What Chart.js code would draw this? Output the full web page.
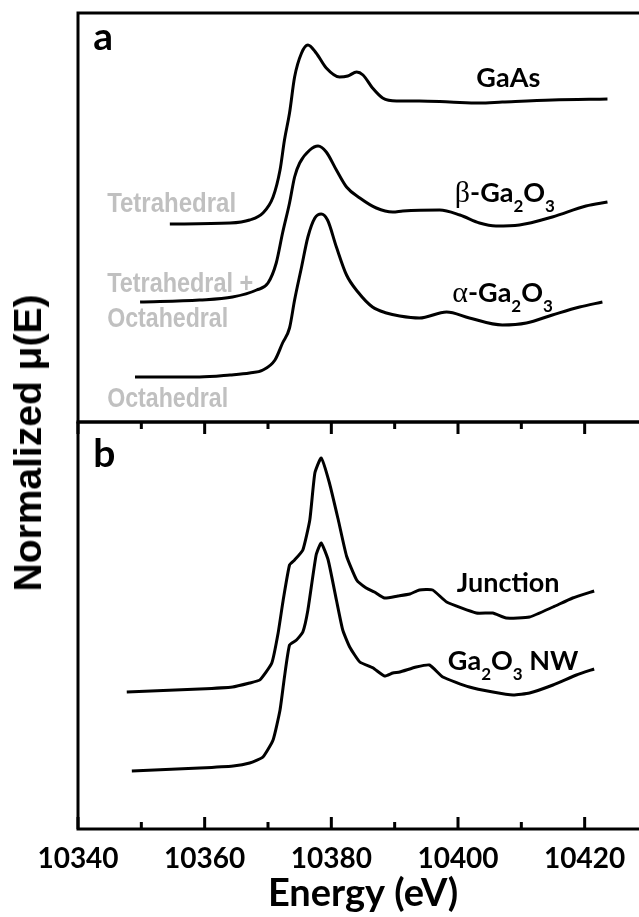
<!DOCTYPE html>
<html lang="en">
<head>
<meta charset="UTF-8">
<title>Ga K-edge XANES</title>
<script src="https://cdn.jsdelivr.net/npm/chart.js@4"></script>
<style>
  html, body { margin: 0; padding: 0; background: #fff; overflow: hidden; }
  #wrap { position: relative; width: 639px; height: 917px; overflow: hidden; }
  #wrap canvas { position: absolute; left: 0; }
  #ylab {
    position: absolute; left: 28px; top: 443px;
    transform: translate(-50%, -50%) rotate(-90deg);
    font: bold 39px 'Liberation Sans', Arial, sans-serif;
    white-space: nowrap; color: #000;
  }
</style>
</head>
<body>
<div id="wrap">
  <canvas id="chartA" width="660" height="430" style="top:0"></canvas>
  <canvas id="chartB" width="660" height="497" style="top:420px"></canvas>
  <div id="ylab">Normalized μ(E)</div>
</div>

<script>
// energy axis (eV)
const xMin = 10340, xMax = 10430;

// panel a: reference compounds (offset for clarity)
const gaasE  = [10354.5, 10364.0, 10367.1, 10369.2, 10370.8, 10371.9, 10372.6, 10373.4, 10374.2, 10375.3, 10376.3, 10377.6, 10379.2, 10381.3, 10382.6, 10384.0, 10385.0, 10386.5, 10388.1, 10390.3, 10393.9, 10398.7, 10403.4, 10407.0, 10414.9, 10423.6];
const gaasMu = [1.98, 1.99, 2.02, 2.09, 2.25, 2.52, 2.82, 3.09, 3.45, 3.69, 3.77, 3.69, 3.54, 3.45, 3.46, 3.50, 3.47, 3.34, 3.24, 3.21, 3.21, 3.20, 3.19, 3.20, 3.22, 3.23];

const betaE  = [10349.8, 10359.2, 10364.4, 10368.2, 10370.0, 10371.3, 10372.3, 10373.4, 10374.2, 10375.0, 10376.6, 10377.9, 10379.2, 10380.8, 10382.4, 10384.5, 10387.1, 10389.7, 10391.3, 10397.1, 10400.3, 10403.4, 10406.0, 10409.7, 10414.9, 10420.2, 10423.6];
const betaMu = [1.20, 1.22, 1.25, 1.32, 1.39, 1.59, 1.89, 2.19, 2.45, 2.59, 2.72, 2.76, 2.70, 2.52, 2.35, 2.24, 2.14, 2.10, 2.11, 2.12, 2.07, 1.99, 1.96, 1.97, 2.05, 2.16, 2.20];

const alphaE  = [10349.0, 10359.2, 10364.0, 10367.1, 10369.2, 10371.1, 10372.3, 10373.4, 10374.2, 10375.3, 10376.3, 10377.4, 10378.4, 10379.4, 10380.8, 10382.4, 10384.2, 10386.5, 10388.7, 10390.8, 10393.9, 10398.2, 10401.8, 10407.0, 10410.8, 10414.9, 10419.2, 10422.8];
const alphaMu = [0.45, 0.45, 0.47, 0.49, 0.52, 0.62, 0.79, 0.94, 1.22, 1.55, 1.85, 2.04, 2.08, 2.02, 1.75, 1.47, 1.30, 1.15, 1.09, 1.06, 1.04, 1.10, 1.04, 0.97, 0.99, 1.07, 1.15, 1.20];

// panel b: nanowire samples
const junctionE  = [10347.7, 10359.2, 10364.4, 10367.1, 10368.7, 10370.6, 10371.6, 10372.4, 10373.4, 10374.2, 10375.5, 10376.6, 10377.4, 10378.4, 10379.7, 10381.1, 10382.4, 10384.0, 10385.5, 10386.8, 10388.4, 10390.5, 10392.4, 10393.9, 10396.0, 10398.2, 10402.9, 10405.5, 10407.6, 10411.3, 10415.0, 10418.1, 10421.5];
const junctionMu = [1.37, 1.40, 1.42, 1.46, 1.49, 1.66, 1.96, 2.29, 2.64, 2.69, 2.79, 3.09, 3.56, 3.71, 3.46, 3.09, 2.73, 2.49, 2.41, 2.37, 2.31, 2.33, 2.35, 2.39, 2.39, 2.27, 2.16, 2.16, 2.11, 2.12, 2.22, 2.31, 2.38];

const nwE  = [10348.5, 10359.2, 10364.5, 10367.1, 10369.2, 10370.8, 10371.9, 10372.6, 10373.4, 10374.5, 10375.5, 10376.3, 10377.6, 10378.4, 10379.5, 10380.8, 10381.8, 10382.9, 10384.5, 10386.6, 10388.4, 10389.7, 10390.8, 10393.4, 10395.5, 10397.6, 10401.8, 10405.5, 10408.7, 10411.3, 10415.0, 10418.7, 10421.5];
const nwMu = [0.58, 0.61, 0.63, 0.66, 0.72, 0.89, 1.19, 1.52, 1.84, 1.89, 1.97, 2.19, 2.74, 2.86, 2.69, 2.29, 1.99, 1.82, 1.67, 1.61, 1.53, 1.56, 1.57, 1.62, 1.64, 1.52, 1.42, 1.37, 1.34, 1.36, 1.44, 1.54, 1.60];

// text placed in data coordinates: [energy, mu]
const labelsA = [
  { x: 10342.4, y: 3.72, kind: 'panel', parts: [['a']] },
  { x: 10402.9, y: 3.35, kind: 'name', parts: [['GaAs']] },
  { x: 10399.5, y: 2.20, kind: 'name', parts: [['β', 'greek'], ['-Ga'], ['2', 'sub'], ['O'], ['3', 'sub']] },
  { x: 10399.1, y: 1.20, kind: 'name', parts: [['α', 'greek'], ['-Ga'], ['2', 'sub'], ['O'], ['3', 'sub']] },
  { x: 10344.6, y: 2.10, kind: 'site', fit: 129, parts: [['Tetrahedral']] },
  { x: 10344.6, y: 1.30, kind: 'site', fit: 146, parts: [['Tetrahedral +']] },
  { x: 10344.6, y: 0.95, kind: 'site', fit: 121, parts: [['Octahedral']] },
  { x: 10344.6, y: 0.15, kind: 'site', fit: 121, parts: [['Octahedral']] }
];
const labelsB = [
  { x: 10342.4, y: 3.62, kind: 'panel', parts: [['b']] },
  { x: 10399.8, y: 2.37, kind: 'name', parts: [['Junction']] },
  { x: 10398.4, y: 1.59, kind: 'name', parts: [['Ga'], ['2', 'sub'], ['O'], ['3', 'sub'], [' NW']] }
];

const pts = (xs, ys) => xs.map((x, i) => ({ x: x, y: ys[i] }));

const FONTS = {
  panel: 'bold 39px Lato, sans-serif',
  name: 'bold 27px Lato, sans-serif',
  sub: 'bold 17px Lato, sans-serif',
  greek: '30px "Liberation Serif", serif',
  site: 'bold 28px "Liberation Sans Narrow", "Liberation Sans", Arial, sans-serif'
};

// box around the plot area
const framePlugin = {
  id: 'frame',
  afterDraw(chart) {
    const { ctx, chartArea: a } = chart;
    ctx.save();
    ctx.lineWidth = 3;
    ctx.strokeStyle = '#000';
    ctx.strokeRect(a.left, a.top, a.right - a.left, a.bottom - a.top);
    ctx.restore();
  }
};

// ticks pointing inward on bottom and top edges
const innerTicks = {
  id: 'innerTicks',
  afterDraw(chart) {
    const { ctx, chartArea: a } = chart;
    const xs = chart.scales.x;
    ctx.save();
    ctx.lineWidth = 3;
    ctx.strokeStyle = '#000';
    xs.ticks.forEach(t => {
      const px = xs.getPixelForValue(t.value);
      const len = t.value % 20 === 0 ? 12 : 7;
      ctx.beginPath();
      ctx.moveTo(px, a.bottom);
      ctx.lineTo(px, a.bottom - len);
      ctx.moveTo(px, a.top);
      ctx.lineTo(px, a.top + len);
      ctx.stroke();
    });
    ctx.restore();
  }
};

// draws labels with subscripts at data positions
const textMarks = {
  id: 'textMarks',
  afterDraw(chart, args, opts) {
    const { ctx } = chart;
    const xs = chart.scales.x, ys = chart.scales.y;
    ctx.save();
    ctx.textBaseline = 'alphabetic';
    ctx.textAlign = 'left';
    (opts.items || []).forEach(item => {
      let cx = xs.getPixelForValue(item.x);
      const py = ys.getPixelForValue(item.y);
      ctx.fillStyle = item.kind === 'site' ? '#c0c0c0' : '#000';
      item.parts.forEach(([t, f]) => {
        const style = f || item.kind;
        ctx.font = FONTS[style];
        const dy = style === 'sub' ? 10 : 0;
        let w = ctx.measureText(t).width;
        if (item.fit && w > item.fit) {
          ctx.fillText(t, cx, py + dy, item.fit);
          w = item.fit;
        } else {
          ctx.fillText(t, cx, py + dy);
        }
        cx += w;
      });
    });
    ctx.restore();
  }
};

const lineStyle = { borderColor: '#000', borderWidth: 3, pointRadius: 0, fill: false };

new Chart(document.getElementById('chartA'), {
  type: 'line',
  data: {
    datasets: [
      { ...lineStyle, label: 'GaAs', data: pts(gaasE, gaasMu), cubicInterpolationMode: 'monotone' },
      { ...lineStyle, label: 'β-Ga2O3', data: pts(betaE, betaMu), cubicInterpolationMode: 'monotone' },
      { ...lineStyle, label: 'α-Ga2O3', data: pts(alphaE, alphaMu), cubicInterpolationMode: 'monotone' }
    ]
  },
  options: {
    responsive: false,
    animation: false,
    events: [],
    layout: { padding: { left: 78, top: 13, right: 12, bottom: 8 } },
    scales: {
      x: { type: 'linear', min: xMin, max: xMax, display: false },
      y: { min: 0, max: 4.09, display: false }
    },
    plugins: {
      legend: { display: false },
      tooltip: { enabled: false },
      textMarks: { items: labelsA }
    }
  },
  plugins: [framePlugin, textMarks]
});

new Chart(document.getElementById('chartB'), {
  type: 'line',
  data: {
    datasets: [
      { ...lineStyle, label: 'Junction', data: pts(junctionE, junctionMu), tension: 0.15 },
      { ...lineStyle, label: 'Ga2O3 NW', data: pts(nwE, nwMu), tension: 0.15 }
    ]
  },
  options: {
    responsive: false,
    animation: false,
    events: [],
    layout: { padding: { left: 78, top: 2, right: 12, bottom: 0 } },
    scales: {
      x: {
        type: 'linear', min: xMin, max: xMax,
        grid: { display: false },
        border: { display: false },
        ticks: {
          stepSize: 10, autoSkip: false, maxRotation: 0, padding: 5,
          color: '#000',
          font: { family: 'Lato, sans-serif', size: 28, weight: 'bold' },
          callback: v => (v % 20 === 0 ? String(v) : '')
        },
        title: {
          display: true, text: 'Energy (eV)', color: '#000',
          font: { family: 'Lato, sans-serif', size: 38, weight: 'bold' },
          padding: { top: 0, bottom: 0 }
        },
        afterFit(scale) { scale.height = 88; }
      },
      y: { min: 0, max: 4.07, display: false }
    },
    plugins: {
      legend: { display: false },
      tooltip: { enabled: false },
      textMarks: { items: labelsB }
    }
  },
  plugins: [framePlugin, innerTicks, textMarks]
});
</script>
</body>
</html>
